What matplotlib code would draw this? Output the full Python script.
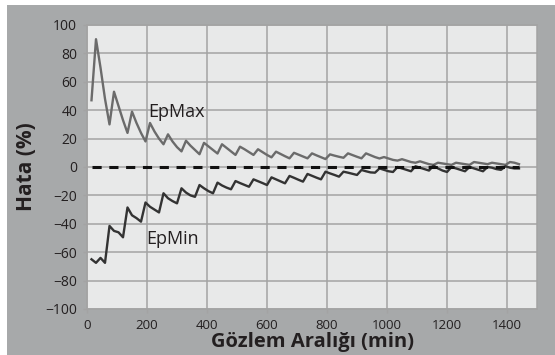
import matplotlib
matplotlib.use("Agg")
import matplotlib.pyplot as plt
from matplotlib.patches import Rectangle

plt.rcParams['font.family'] = ['Open Sans', 'DejaVu Sans']

# observation interval (min), every 15 min up to 24 h
interval = list(range(15, 1441, 15))

# error of the upper estimate (%)
ep_max = [47, 90, 70, 48, 30, 53, 43, 33, 24, 39, 31, 24, 18, 31, 25, 20,
          16, 23, 18, 14, 11, 18.5, 15, 12, 9, 17, 14.5, 12, 9.5, 16, 13.5, 11,
          8.5, 14.3, 12.5, 10.5, 8.5, 12.5, 10.5, 8.5, 6.8, 10.8, 9.2, 7.6, 6.1, 10, 8.7, 7.4,
          6.1, 9.6, 8.2, 6.9, 5.6, 8.9, 8, 7.2, 6.5, 9.6, 8.4, 7.2, 6.1, 9.6, 8.3, 7,
          6, 7, 6, 5, 4.5, 5.5, 4.5, 3.5, 3, 4, 3, 2, 1.5, 3, 2.5, 2,
          1.5, 3, 2.5, 2, 1.5, 3.5, 3, 2.5, 2, 3, 2.5, 2, 1.5, 3.5, 3, 2]

# error of the lower estimate (%)
ep_min = [-65, -67.5, -64, -67.5, -41.5, -45, -46, -49.5, -28.5, -34, -36, -38.5, -25, -28, -30, -32,
          -18.5, -22, -24, -25.6, -15, -18, -20, -21, -12.7, -15, -17, -18.5, -11, -13, -14.5, -15.7,
          -9.9, -11.3, -12.6, -13.9, -8.7, -10, -11.3, -12.7, -7.3, -8.7, -10.1, -11.5, -6.3, -7.6, -9, -10.3,
          -4.9, -6.2, -7.5, -8.7, -3.3, -4.5, -5.6, -6.8, -3.3, -4, -4.8, -5.6, -2.1, -3, -3.8, -4,
          -1, -2, -3, -3.5, 0, -1, -2, -3, 0.5, -0.5, -1.5, -2.5, 1, -1, -2.5, -3.5,
          0, -1, -2, -3, 0, -1, -2, -3, 0, -0.5, -1.5, -2, 0.5, -0.5, -1, -1]

zero = [0] * len(interval)

fig = plt.figure(figsize=(5.55, 3.55), dpi=100)
fig.patch.set_facecolor('white')
fig.add_artist(Rectangle((7 / 555, 0), 1, 1 - 5 / 355, transform=fig.transFigure,
                         facecolor='#a7a9aa', edgecolor='none', zorder=-10))

ax = fig.add_axes([87 / 555, 1 - 309 / 355, 450 / 555, 284 / 355])
ax.set_facecolor('#e8e9e9')

ax.plot(interval, ep_max, color='#6b6b6b', lw=1.7, zorder=3)
ax.plot(interval, ep_min, color='#333333', lw=1.7, zorder=3)
ax.plot(interval, zero, color='#111111', lw=2.2, dashes=(3, 2.5), zorder=4)

ax.text(205, 39, 'EpMax', fontsize=13, color='#231f20', va='center', ha='left')
ax.text(198, -51, 'EpMin', fontsize=13, color='#231f20', va='center', ha='left')

ax.set_xlim(0, 1500)
ax.set_ylim(-100, 100)
ax.set_xticks(range(0, 1401, 200))
ax.set_yticks(range(-100, 101, 20))
ax.grid(True, color='#a3a3a3', lw=1.1)
ax.set_axisbelow(True)
for s in ax.spines.values():
    s.set_color('#a3a3a3')
    s.set_linewidth(1.1)
ax.tick_params(axis='both', colors='#a3a3a3', length=3, width=1, labelcolor='#231f20')
ax.tick_params(axis='x', labelsize=9.5, pad=4)
ax.tick_params(axis='y', labelsize=10, pad=4)

ax.set_xlabel('Gözlem Aralığı (min)', fontsize=14.5, fontweight='bold', color='#231f20', labelpad=0)
ax.set_ylabel('Hata (%)', fontsize=15, fontweight='bold', color='#231f20', labelpad=6)

fig.savefig('out.png', dpi=100)
